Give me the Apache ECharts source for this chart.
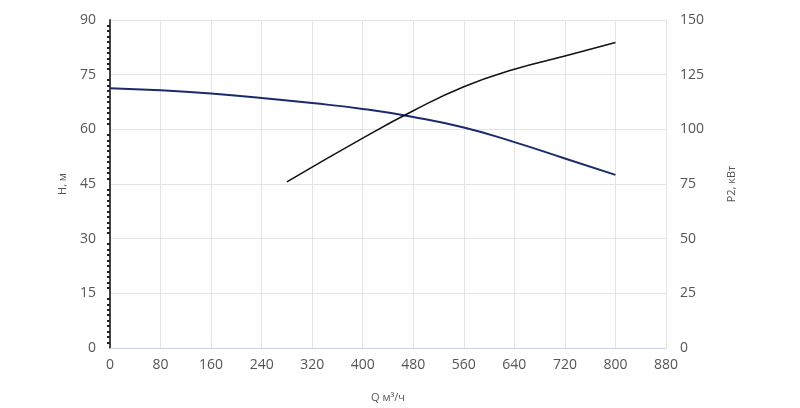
<!DOCTYPE html><html><head><meta charset="utf-8"><script src="https://cdn.jsdelivr.net/npm/echarts@6/dist/echarts.min.js"></script></head><body style="margin:0"><div id="c" style="width:800px;height:408px"></div><script>
const hQ=[0,80,160,240,320,400,480,560,640,720,800];
const hVal=[71.3,70.7,69.8,68.6,67.2,65.6,63.4,60.5,56.5,52,47.5];
const pQ=[280,400,480,560,640,720,800];
const pVal=[76,96,108.5,119.5,127.5,133.5,139.7];
const font='"Open Sans",sans-serif';
const ch=echarts.init(document.getElementById('c'));
ch.setOption({animation:false,
grid:{left:110,right:134,top:20,bottom:54},
xAxis:{type:'value',min:0,max:880,interval:80,name:'Q м³/ч',nameLocation:'middle',nameGap:44,nameTextStyle:{color:'#555',fontSize:11,fontFamily:font},
axisLine:{lineStyle:{color:'#c8d4ee'}},axisTick:{show:false},axisLabel:{color:'#555',fontSize:14,fontFamily:font,margin:10},splitLine:{lineStyle:{color:'#e4e4e4'}}},
yAxis:[{type:'value',min:0,max:90,interval:15,name:'H, м',nameLocation:'middle',nameGap:42,nameTextStyle:{color:'#555',fontSize:11,fontFamily:font},
axisLine:{show:true,lineStyle:{color:'#444',width:2}},axisTick:{show:false},minorTick:{show:true,splitNumber:10,length:3,lineStyle:{color:'#222',width:2}},
axisLabel:{color:'#555',fontSize:14,fontFamily:font,margin:14},splitLine:{lineStyle:{color:'#e4e4e4'}}},
{type:'value',min:0,max:150,interval:25,name:'P2, кВт',nameLocation:'middle',nameGap:60,nameTextStyle:{color:'#555',fontSize:11,fontFamily:font},
axisLine:{show:false},axisTick:{show:false},axisLabel:{color:'#555',fontSize:14,fontFamily:font,margin:14},splitLine:{show:false}}],
series:[{type:'line',data:hQ.map((q,i)=>[q,hVal[i]]),smooth:true,symbol:'none',lineStyle:{color:'#1a2a6c',width:2}},
{type:'line',yAxisIndex:1,data:pQ.map((q,i)=>[q,pVal[i]]),smooth:true,symbol:'none',lineStyle:{color:'#111',width:1.5}}]});
</script></body></html>
